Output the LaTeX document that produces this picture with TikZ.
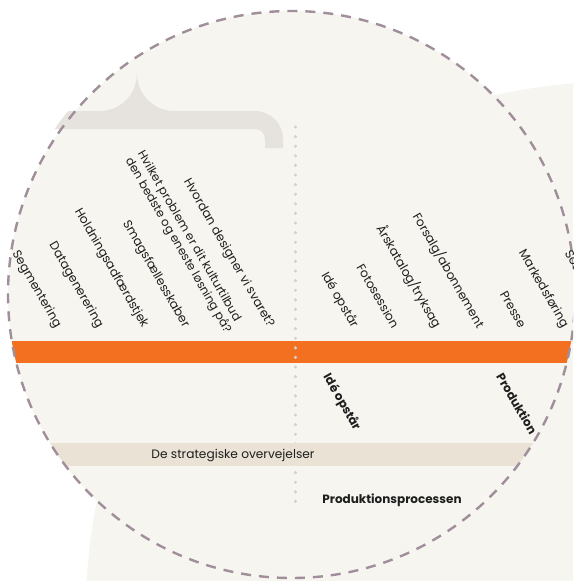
\documentclass[tikz,border=0pt]{standalone}
\usepackage{fontspec}
\setmainfont{Poppins}
\definecolor{bgc}{RGB}{246,245,240}
\definecolor{bracec}{RGB}{230,227,222}
\definecolor{barc}{RGB}{243,112,33}
\definecolor{bandc}{RGB}{233,226,213}
\definecolor{dotc}{RGB}{214,209,198}
\definecolor{dashc}{RGB}{160,142,155}
\definecolor{txtc}{RGB}{30,30,30}
\begin{document}
\begin{tikzpicture}[x=1pt,y=-1pt,
  lbl/.style={inner sep=0pt, text=txtc, font=\fontsize{12.2}{14}\selectfont, rotate=-60, anchor=east},
  blbl/.style={inner sep=0pt, text=txtc, font=\fontsize{12}{14}\selectfont\bfseries, rotate=-60, anchor=west},
  hlbl/.style={inner sep=0pt, text=txtc, font=\fontsize{12}{14}\selectfont\bfseries}]
\useasboundingbox (0,0) rectangle (573,581);
\fill[white] (0,0) rectangle (573,581);
\begin{scope}
  \clip (0,0) rectangle (573,581);
  \fill[bgc] (613,609) circle[radius=527];
  \fill[bgc] (291.5,294.5) circle[radius=283.5];
  \begin{scope}
    \clip (291.5,294.5) circle[radius=289];
    % brace
    \fill[bracec] (30,111) -- (100,111) .. controls (120.4,111) and (137,94.4) .. (137,73)
      .. controls (137,94.4) and (153.6,111) .. (174,111) -- (255,111)
      .. controls (270.5,111) and (283,123.5) .. (283,139) -- (283,148) -- (265,148) -- (265,139)
      .. controls (265,133.5) and (260.5,129) .. (255,129) -- (30,129) -- cycle;
  \end{scope}
  \begin{scope}
    \clip (291.5,294.5) circle[radius=283.5];
    \fill[barc] (0,341) rectangle (573,363);
    \draw[dotc, line width=3.4pt, line cap=round, dash pattern=on 0pt off 9.6pt] (295.5,127) -- (295.5,505);
    \fill[bandc] (0,443) rectangle (573,466);
  \end{scope}
  \node[inner sep=0pt, text=txtc, font=\fontsize{12.2}{14}\selectfont] (band) at (233,455) {De strategiske overvejelser};
  \draw[dashc, line width=2.4pt, dash pattern=on 10pt off 8pt] (291.5,294.5) circle[radius=283.5];
  % upper labels left
  \node[lbl] (seg) at (58,327) {Segmentering};
  \node[lbl] (dat) at (100,327) {Datagenerering};
  \node[lbl] (hol) at (145,327) {Holdningsadfærdstjek};
  \node[lbl] (sma) at (186,327) {Smagsfællesskaber};
  \node[lbl, align=left, font=\fontsize{11.8}{14}\selectfont] (hvi) at (234,329) {Hvilket problem er dit kulturtilbud\\den bedste og eneste løsning på?};
  \node[lbl] (hvo) at (271,327) {Hvordan designer vi svaret?};
  % upper labels right
  \node[lbl] (ide) at (355,327) {Idé opstår};
  \node[lbl] (fot) at (396,327) {Fotosession};
  \node[lbl] (ars) at (438,327) {Årskatalog/tryksag};
  \node[lbl] (for) at (481,327) {Forsalg/abonnement};
  \node[lbl] (pre) at (523,327) {Presse};
  \node[lbl] (mar) at (565,327) {Markedsføring};
  \node[lbl] (soc) at (614,330) {Sociale medier};
  % lower labels
  \node[blbl] (ide2) at (326,375) {Idé opstår};
  \node[blbl] (pro) at (500,374) {Produktion};
  \node[hlbl] (proc) at (392,500) {Produktionsprocessen};
\end{scope}
\end{tikzpicture}
\end{document}
